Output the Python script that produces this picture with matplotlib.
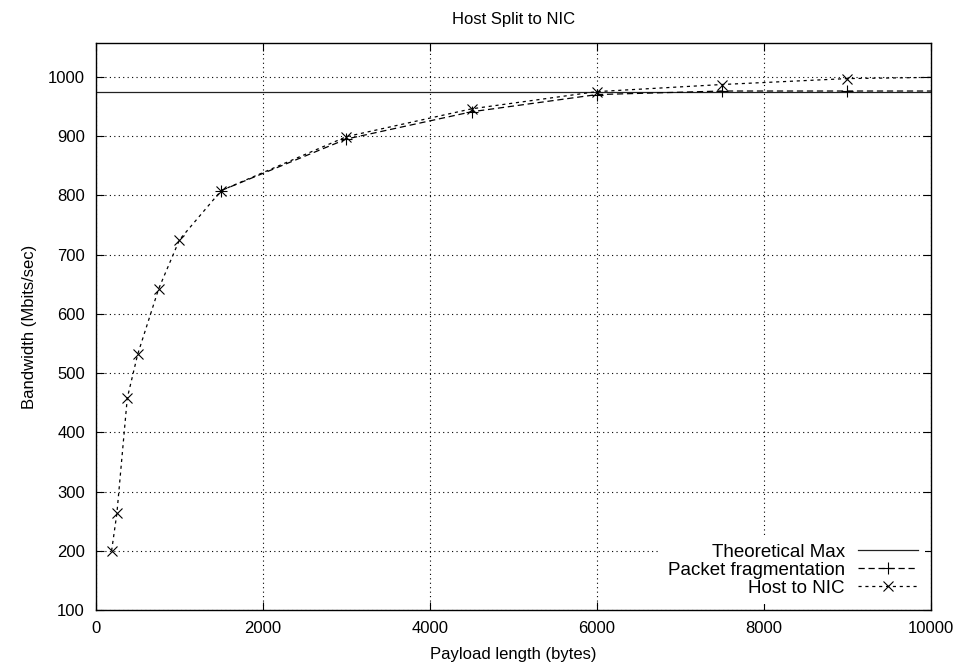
import matplotlib.pyplot as plt
import numpy as np

plt.rcParams['font.family'] = ['Liberation Sans', 'DejaVu Sans']

# payload length (bytes) vs bandwidth (Mbits/sec)
host_x = [187, 250, 375, 500, 750, 1000, 1500, 3000, 4500, 6000, 7500, 9000, 10500]
host_y = [200, 263, 458, 532, 642, 725, 808, 899, 946, 975, 987, 997, 1000]

frag_x = [1500, 3000, 4500, 6000, 7500, 9000, 10500]
frag_y = [808, 895, 941, 970, 976, 976, 976]

theoretical_max = 975


def host_split_plot():
    fig = plt.figure(figsize=(9.59, 6.63), dpi=100)
    ax = fig.add_axes([0.1001, 0.0799, 0.8707, 0.8552])

    ax.plot([0, 10000], [theoretical_max, theoretical_max], color="#222222",
            lw=0.9, label="Theoretical Max")
    ax.plot(frag_x, frag_y, color="black", lw=0.9, ls=(0, (5, 3)),
            marker="+", ms=8, mew=0.8, label="Packet fragmentation")
    ax.plot(host_x, host_y, color="black", lw=0.9, ls=(0, (2.5, 3)),
            marker="x", ms=7, mew=0.8, label="Host to NIC")

    ax.set_xlim(0, 10000)
    ax.set_ylim(100, 1057)
    ax.set_xticks(np.arange(0, 10001, 2000))
    ax.set_yticks(np.arange(100, 1001, 100))
    ax.grid(True, color="black", ls=(0, (1, 3)), lw=0.8)
    ax.tick_params(direction="in", top=True, right=True, length=6,
                   labelsize=12, pad=8)
    for s in ax.spines.values():
        s.set_linewidth(1.0)

    ax.set_title("Host Split to NIC", fontsize=12, pad=14)
    ax.set_xlabel("Payload length (bytes)", fontsize=12, labelpad=8)
    ax.set_ylabel("Bandwidth (Mbits/sec)", fontsize=12, labelpad=8)

    leg = ax.legend(loc="lower right", markerfirst=False, frameon=True,
                    fontsize=13.5, handlelength=3.2, labelspacing=0.05,
                    borderaxespad=0.3, handletextpad=0.7, borderpad=0.4)
    leg.get_frame().set_edgecolor("none")
    leg.get_frame().set_facecolor("white")
    leg.get_frame().set_alpha(1)
    for t in leg.get_texts():
        t.set_ha("right")
    leg._legend_box.align = "right"

    fig.savefig("out.png", dpi=100)


if __name__ == '__main__':
    host_split_plot()
